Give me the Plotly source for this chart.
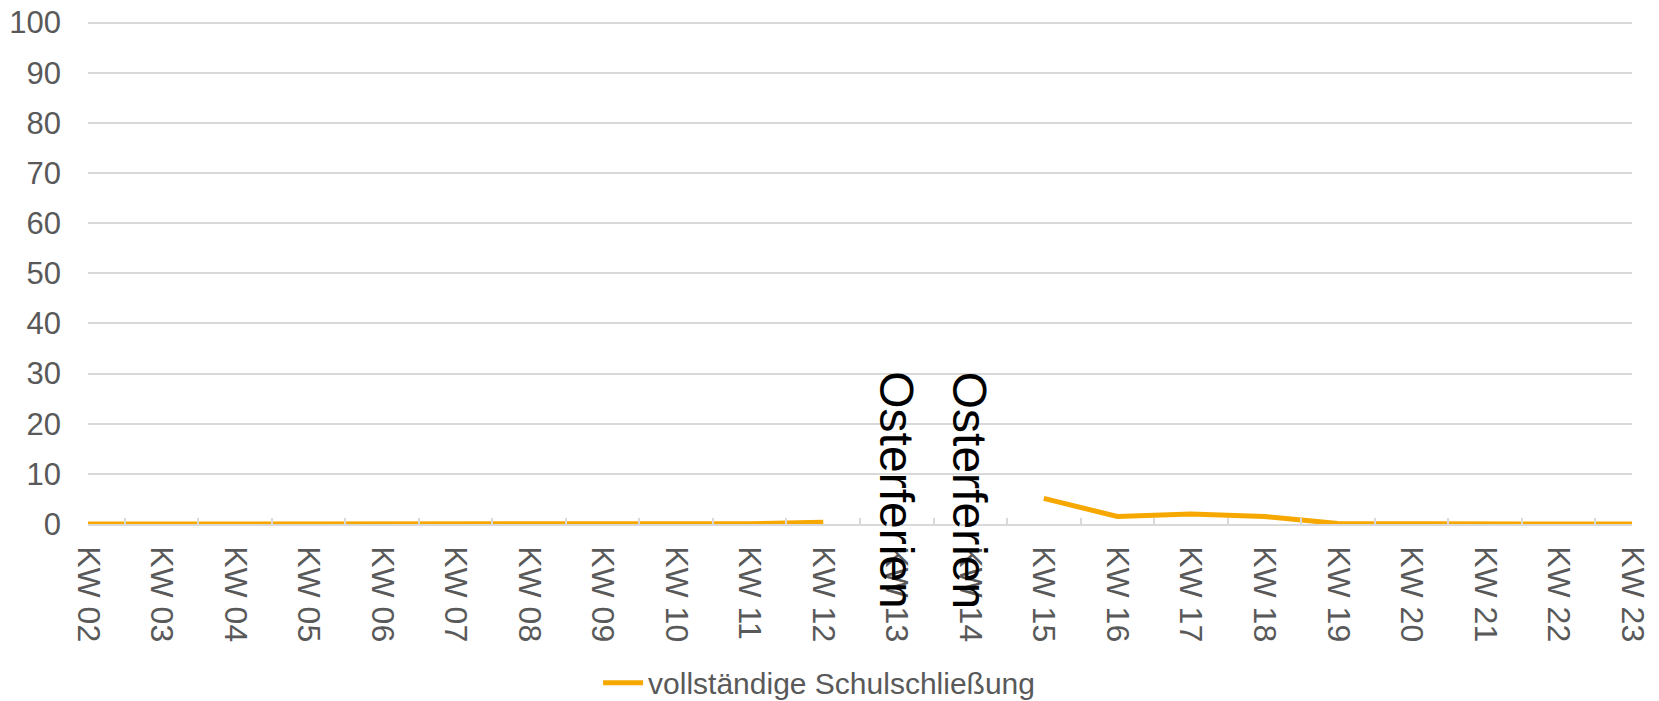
import plotly.graph_objects as go

weeks = ["KW 02", "KW 03", "KW 04", "KW 05", "KW 06", "KW 07", "KW 08", "KW 09",
         "KW 10", "KW 11", "KW 12", "KW 13", "KW 14", "KW 15", "KW 16", "KW 17",
         "KW 18", "KW 19", "KW 20", "KW 21", "KW 22", "KW 23"]
schulschliessung = [0, 0, 0, 0, 0, 0, 0, 0, 0, 0.05, 0.35, None, None, 5.1, 1.5, 2.0,
                    1.5, 0.1, 0, 0, 0, 0]
ferien_weeks = ["KW 13", "KW 14"]
ferien_label = "Osterferien"
ferien_y = 30.8
y_ticks = [0, 10, 20, 30, 40, 50, 60, 70, 80, 90, 100]

FONT = "Liberation Sans, Arial, sans-serif"
GRID = "#D9D9D9"
TXT = "#595959"

fig = go.Figure()
fig.add_trace(go.Scatter(
    x=weeks, y=schulschliessung, mode="lines",
    name="vollständige Schulschließung",
    line=dict(color="#F6A800", width=5),
    connectgaps=False,
))

for w in ferien_weeks:
    fig.add_annotation(x=w, y=ferien_y, text=ferien_label, showarrow=False,
                       textangle=90, xanchor="center", yanchor="top",
                       font=dict(family=FONT, size=48, color="#000000"))

fig.update_layout(
    width=1659, height=701,
    margin=dict(l=88, r=27, t=20, b=177, autoexpand=False),
    paper_bgcolor="white", plot_bgcolor="white",
    font=dict(family=FONT, color=TXT),
    showlegend=True,
    legend=dict(orientation="h", xref="container", yref="container",
                x=0.3605, xanchor="left", y=0.026, yanchor="middle",
                font=dict(family=FONT, size=30, color=TXT), itemwidth=40),
)
fig.update_xaxes(
    type="category", categoryorder="array", categoryarray=weeks,
    range=[0, len(weeks) - 1], automargin=False,
    tickangle=90, tickfont=dict(family=FONT, size=32, color=TXT),
    showgrid=False, showline=True, linecolor=GRID, linewidth=1.5,
    tickson="boundaries", ticks="inside", ticklen=6, tickcolor=GRID, tickwidth=1.5,
    ticklabelstandoff=14, zeroline=False, ticklabeloverflow="allow",
)
fig.update_yaxes(
    range=[0, 100.5], tickvals=y_ticks, automargin=False,
    tickfont=dict(family=FONT, size=31, color=TXT),
    showgrid=True, gridcolor=GRID, gridwidth=1.5,
    zeroline=False, showline=False, ticks="", ticklabelstandoff=26,
    ticklabeloverflow="allow",
)

fig.write_html(
    "out.html",
    config={"displayModeBar": False},
    post_script="document.body.style.margin='0';document.body.style.overflow='hidden';",
)
